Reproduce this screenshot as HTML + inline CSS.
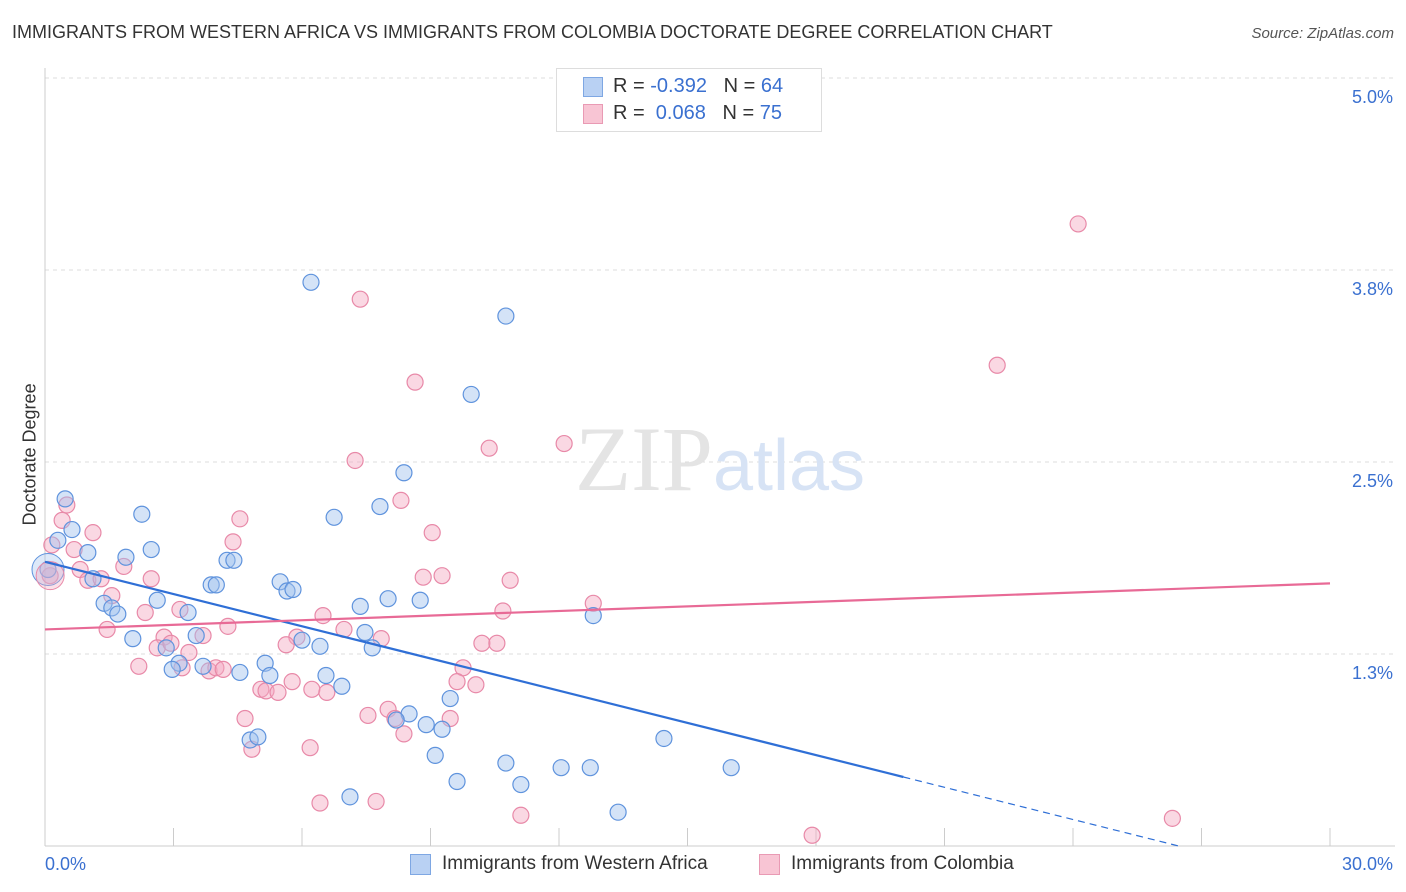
<!DOCTYPE html>
<html><head><meta charset="utf-8">
<style>
body{margin:0;background:#fff;font-family:"Liberation Sans",sans-serif;}
#wrap{position:relative;width:1406px;height:892px;overflow:hidden;}
.t{position:absolute;white-space:nowrap;}
</style></head>
<body>
<div id="wrap">
<div class="t" style="left:12px;top:22px;font-size:18px;color:#333;">IMMIGRANTS FROM WESTERN AFRICA VS IMMIGRANTS FROM COLOMBIA DOCTORATE DEGREE CORRELATION CHART</div>
<div class="t" style="right:12px;top:25px;font-size:15px;color:#555;font-style:italic;">Source: ZipAtlas.com</div>
<div class="t" style="left:-40px;top:445px;font-size:18px;color:#333;transform:rotate(-90deg);width:140px;text-align:center;">Doctorate Degree</div>
<svg id="svg" width="1406" height="892" style="position:absolute;left:0;top:0;"></svg>
<div style="position:absolute;left:556px;top:68px;width:264px;height:62px;border:1px solid #ddd;background:#fff;">
  <div style="position:absolute;left:26px;top:8px;width:18px;height:18px;background:#b9d1f3;border:1px solid #7ea7e3;"></div>
  <div class="t" style="left:56px;top:6px;font-size:20px;color:#333;">R = <span style="color:#3a70d0">-0.392</span>&nbsp;&nbsp;&nbsp;N = <span style="color:#3a70d0">64</span></div>
  <div style="position:absolute;left:26px;top:35px;width:18px;height:18px;background:#f8c5d4;border:1px solid #e99ab4;"></div>
  <div class="t" style="left:56px;top:33px;font-size:20px;color:#333;">R = &nbsp;<span style="color:#3a70d0">0.068</span>&nbsp;&nbsp;&nbsp;N = <span style="color:#3a70d0">75</span></div>
</div>
<div>
  <div style="position:absolute;left:410px;top:854px;width:19px;height:19px;background:#b9d1f3;border:1px solid #7ea7e3;"></div>
  <div class="t" style="left:442px;top:853px;font-size:19px;color:#333;">Immigrants from Western Africa</div>
  <div style="position:absolute;left:759px;top:854px;width:19px;height:19px;background:#f8c5d4;border:1px solid #e99ab4;"></div>
  <div class="t" style="left:791px;top:853px;font-size:19px;color:#333;">Immigrants from Colombia</div>
</div>
</div>
<script>
const yTicks=[1.25,2.5,3.75,5.0];
const yTickLabels=["1.3%","2.5%","3.8%","5.0%"];
const xTickValues=[0,3,6,9,12,15,18,21,24,27,30];
const blueX=[6.21,10.76,9.95,8.38,7.82,6.75,0.47,0.63,0.30,1.00,2.26,2.48,1.89,1.12,4.25,4.41,3.88,4.00,5.49,5.65,5.79,1.38,1.56,1.70,2.62,3.34,7.36,8.01,8.76,12.80,2.05,3.53,2.83,6.00,6.42,7.47,7.64,3.13,2.97,3.69,4.55,5.14,5.25,6.56,6.93,9.46,8.50,8.20,8.90,9.27,4.79,4.97,14.45,9.11,10.76,12.05,12.73,16.02,9.62,11.11,7.12,13.38,0.07];
const blueY=[3.67,3.45,2.94,2.43,2.21,2.14,2.26,2.06,1.99,1.91,2.16,1.93,1.88,1.74,1.86,1.86,1.70,1.70,1.72,1.66,1.67,1.58,1.55,1.51,1.60,1.52,1.56,1.61,1.60,1.50,1.35,1.37,1.29,1.34,1.30,1.39,1.29,1.19,1.15,1.17,1.13,1.19,1.11,1.11,1.04,0.96,0.86,0.82,0.79,0.76,0.69,0.71,0.70,0.59,0.54,0.51,0.51,0.51,0.42,0.40,0.32,0.22,1.80];
const pinkX=[24.12,7.36,22.23,8.64,10.37,7.24,12.12,8.31,0.51,0.40,4.55,1.12,9.04,4.39,0.68,0.16,1.84,0.82,1.00,1.31,2.48,8.83,9.27,10.86,0.12,1.56,12.80,2.34,3.15,10.69,6.49,1.45,4.27,6.98,2.78,3.69,5.88,7.85,2.62,2.94,5.63,10.20,10.55,3.36,2.19,3.20,3.83,3.99,4.16,9.76,5.77,9.62,10.06,5.04,5.16,5.44,6.23,6.58,8.01,7.54,8.17,9.46,4.67,8.38,6.19,4.83,6.42,7.73,11.11,26.32,17.91];
const pinkY=[4.05,3.56,3.13,3.02,2.59,2.51,2.62,2.25,2.22,2.12,2.13,2.04,2.04,1.98,1.93,1.96,1.82,1.80,1.73,1.74,1.74,1.75,1.76,1.73,1.76,1.63,1.58,1.52,1.54,1.53,1.50,1.41,1.43,1.41,1.36,1.37,1.36,1.35,1.29,1.32,1.31,1.32,1.32,1.26,1.17,1.16,1.14,1.16,1.15,1.16,1.07,1.07,1.05,1.02,1.01,1.00,1.02,1.00,0.89,0.85,0.83,0.83,0.83,0.73,0.64,0.63,0.28,0.29,0.20,0.18,0.07];
const blueBig=[0.07,1.80];const pinkBig=[0.12,1.76];
const blueTrend=[1.85,-0.0699];   // intercept, slope
const pinkTrend=[1.41,0.0100];

const X=v=>45+v/30*1285;
const Y=v=>846-v/5*768;
const svg=document.getElementById('svg');
const NS='http://www.w3.org/2000/svg';
function mk(tag,attrs){const e=document.createElementNS(NS,tag);for(const k in attrs)e.setAttribute(k,attrs[k]);svg.appendChild(e);return e;}

yTicks.forEach((v,i)=>{
  const g=mk('line',{x1:45,x2:1395,y1:Y(v),y2:Y(v),stroke:'#ddd','stroke-dasharray':'4,4'});
  
  
  const t=mk('text',{x:1393,y:Y(v)+25,'text-anchor':'end','font-size':18,fill:'#3a70d0','font-family':'Liberation Sans'});
  t.textContent=yTickLabels[i];
  
  
});
const yl=mk('line',{x1:45,x2:45,y1:68,y2:846,stroke:'#ccc'});


const xl=mk('line',{x1:45,x2:1395,y1:846,y2:846,stroke:'#ccc'});


xTickValues.forEach(v=>{
  const l=mk('line',{x1:X(v),x2:X(v),y1:828,y2:846,stroke:'#ccc'});
  
  
});
const x0=mk('text',{x:45,y:870,'font-size':18,fill:'#3a70d0','font-family':'Liberation Sans'});
x0.textContent='0.0%';


const x1=mk('text',{x:1393,y:870,'text-anchor':'end','font-size':18,fill:'#3a70d0','font-family':'Liberation Sans'});
x1.textContent='30.0%';



const wm=mk('text',{x:720,y:490,'text-anchor':'middle','font-size':92,fill:'#e4e4e4','font-family':'Liberation Serif'});
wm.innerHTML='ZIP<tspan fill="#d7e3f5" font-family="Liberation Sans" font-size="72">atlas</tspan>';



function dots(xs,ys,fill,stroke,name){
  xs.forEach((x,i)=>{
    const c=mk('circle',{cx:X(x),cy:Y(ys[i]),r:8,fill:fill,'fill-opacity':0.45,stroke:stroke,'stroke-width':1.2});
    
    
  });
}
dots(pinkX,pinkY,'#f4a9c0','#e889a8','colombia-point');
dots(blueX,blueY,'#9fc0ee','#5f93dd','western-africa-point');
const bb=mk('circle',{cx:X(blueBig[0]),cy:Y(blueBig[1]),r:16,fill:'#9fc0ee','fill-opacity':0.35,stroke:'#5f93dd'});


const pb=mk('circle',{cx:X(pinkBig[0]),cy:Y(pinkBig[1]),r:14,fill:'#f4a9c0','fill-opacity':0.35,stroke:'#e889a8'});



const bEnd=20.04, bZero=-blueTrend[0]/blueTrend[1];
const bt=mk('line',{x1:X(0),y1:Y(blueTrend[0]),x2:X(bEnd),y2:Y(blueTrend[0]+blueTrend[1]*bEnd),stroke:'#2f6fd6','stroke-width':2.2});


const bd=mk('line',{x1:X(bEnd),y1:Y(blueTrend[0]+blueTrend[1]*bEnd),x2:X(bZero),y2:Y(0),stroke:'#2f6fd6','stroke-width':1.2,'stroke-dasharray':'7,5'});


const pt=mk('line',{x1:X(0),y1:Y(pinkTrend[0]),x2:X(30),y2:Y(pinkTrend[0]+pinkTrend[1]*30),stroke:'#e86a96','stroke-width':2.2});


</script>
</body></html>
